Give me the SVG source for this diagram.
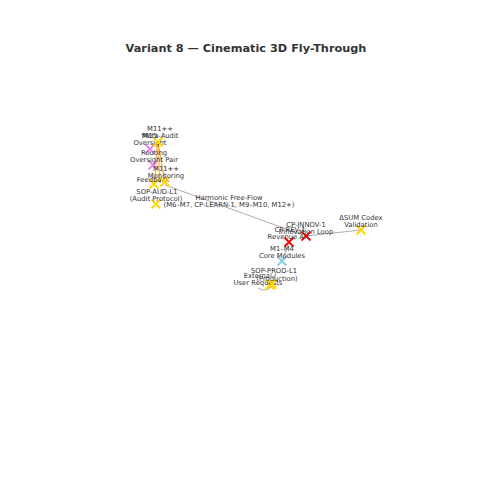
<svg xmlns="http://www.w3.org/2000/svg" width="480" height="480" viewBox="0 0 480 480">
<style>
.t{font-family:"DejaVu Sans",sans-serif;font-size:6.8px;fill:#333;text-anchor:middle}
.title{font-family:"DejaVu Sans",sans-serif;font-size:11.3px;font-weight:bold;fill:#333;text-anchor:middle}
.e{stroke:#999;stroke-width:0.8;fill:none}
.o{stroke:#FFA500;stroke-width:1.2;fill:none;opacity:0.8}
.mk{stroke-width:1.8;fill:none}
.y{stroke:#FFD700}
.m{stroke:#EE82EE}
.r{stroke:#FF0000}
.b{stroke:#87CEEB}
</style>
<defs>
<path id="x" d="M-4.5,-4.5L4.5,4.5M-4.5,4.5L4.5,-4.5"/>
</defs>
<rect width="480" height="480" fill="#fff"/>
<text class="title" x="246" y="52">Variant 8 — Cinematic 3D Fly-Through</text>
<g id="connectors">
<line class="o" x1="158" y1="142" x2="165" y2="182"/>
<line class="o" x1="158" y1="142" x2="160" y2="183"/>
<line class="o" x1="157" y1="143" x2="155" y2="184"/>
<line class="e" x1="165" y1="185" x2="300" y2="234"/>
<line class="e" x1="306" y1="236" x2="361" y2="230"/>
<line class="e" x1="282" y1="261" x2="289" y2="242"/>
<path class="e" d="M258,288 Q266,293 272,286" stroke="#bbb"/>
<text class="t" x="229" y="200">Harmonic Free-Flow</text>
<text class="t" x="229" y="207">(M6–M7, CP-LEARN-1, M9–M10, M12+)</text>
</g>
<g id="n-m15">
<use href="#x" class="mk m" x="150" y="149"/>
<text class="t" x="150" y="137.5">M15</text>
<text class="t" x="150" y="144.5">Oversight</text>
</g>
<g id="n-meta-audit">
<use href="#x" class="mk y" x="158" y="142"/>
<text class="t" x="160" y="130.5">M11++</text>
<text class="t" x="160" y="137.5">Meta-Audit</text>
</g>
<g id="n-routing">
<use href="#x" class="mk m" x="153" y="165"/>
<text class="t" x="154" y="154.5">Routing</text>
<text class="t" x="154" y="161.5">Oversight Pair</text>
</g>
<g id="n-feedback">
<use href="#x" class="mk y" x="154" y="184"/>
<text class="t" x="153" y="181.5">Feedback</text>
</g>
<g id="n-monitoring">
<use href="#x" class="mk y" x="165" y="182"/>
<text class="t" x="166" y="170.5">M11++</text>
<text class="t" x="166" y="177.5">Monitoring</text>
</g>
<g id="n-sop-aud">
<use href="#x" class="mk y" x="156" y="204"/>
<text class="t" x="157" y="193.5">SOP-AUD-L1</text>
<text class="t" x="156" y="200.5">(Audit Protocol)</text>
</g>
<g id="n-cp-innov">
<use href="#x" class="mk r" x="306" y="236"/>
<text class="t" x="306" y="226.5">CP-INNOV-1</text>
<text class="t" x="306" y="233.5">Innovation Loop</text>
</g>
<g id="n-cp-rev">
<use href="#x" class="mk r" x="289" y="242"/>
<text class="t" x="290" y="231.5">CP-REV-1</text>
<text class="t" x="289" y="238.5">Revenue Arc</text>
</g>
<g id="n-core">
<use href="#x" class="mk b" x="282" y="261"/>
<text class="t" x="282" y="250.5">M1–M4</text>
<text class="t" x="282" y="257.5">Core Modules</text>
</g>
<g id="n-external">
<use href="#x" class="mk y" x="270" y="285"/>
<text class="t" x="260" y="277.5">External /</text>
<text class="t" x="258" y="285">User Requests</text>
</g>
<g id="n-sop-prod">
<use href="#x" class="mk y" x="272" y="284"/>
<text class="t" x="274" y="272.5">SOP-PROD-L1</text>
<text class="t" x="277" y="280.5">(Production)</text>
</g>
<g id="n-sum">
<use href="#x" class="mk y" x="361" y="230"/>
<text class="t" x="361" y="219.5">ΔSUM Codex</text>
<text class="t" x="361" y="226.5">Validation</text>
</g>
</svg>
